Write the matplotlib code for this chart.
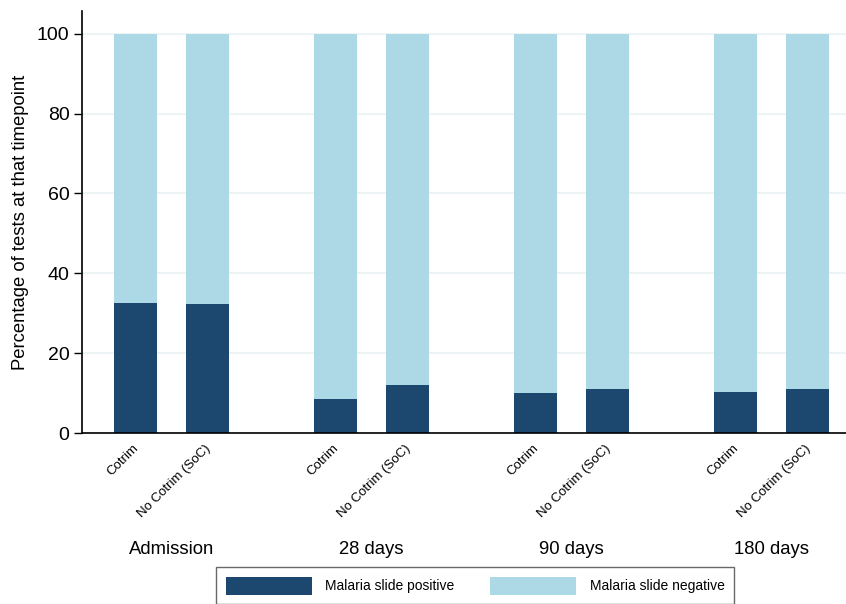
import matplotlib.pyplot as plt
import matplotlib.transforms as mtransforms
import numpy as np

plt.rcParams['font.family'] = ['Liberation Sans', 'DejaVu Sans']

timepoints = ["Admission", "28 days", "90 days", "180 days"]
arms = ["Cotrim", "No Cotrim (SoC)"]
# percentage of slides positive, per timepoint, per arm
positive = [[32.6, 32.4],
            [8.4, 12.1],
            [10.1, 11.1],
            [10.3, 11.1]]

dark = "#1c476f"
light = "#add8e6"

fig = plt.figure(figsize=(8.46, 6.04), dpi=100)
ax = fig.add_axes([82 / 846, 171 / 604, 1 - 82 / 846, 422 / 604])

group_gap = 5.0
arm_gap = 1.8
width = 1.075

xs, labels = [], []
for g, tp in enumerate(timepoints):
    for j, arm in enumerate(arms):
        x = g * group_gap + j * arm_gap
        pos = positive[g][j]
        ax.bar(x, pos, width, color=dark, zorder=2,
               label="Malaria slide positive" if (g, j) == (0, 0) else None)
        ax.bar(x, 100 - pos, width, bottom=pos, color=light, zorder=2,
               label="Malaria slide negative" if (g, j) == (0, 0) else None)
        xs.append(x)
        labels.append(arm)

ax.set_xlim(-1.3375, xs[-1] + 0.9625)
ax.set_ylim(0, 105.7)
ax.set_yticks([0, 20, 40, 60, 80, 100])
ax.yaxis.grid(True, color="#eaf2f3", linewidth=1.2, zorder=0)
ax.set_axisbelow(True)
ax.tick_params(axis="y", length=6, width=1, labelsize=14, pad=3)
ax.set_ylabel("Percentage of tests at that timepoint", fontsize=13.3, labelpad=6)

ax.set_xticks(xs)
ax.set_xticklabels([])
ax.tick_params(axis="x", length=0)
trans = mtransforms.blended_transform_factory(ax.transData, ax.transAxes)
for x, lab in zip(xs, labels):
    ax.text(x - 0.08, -0.022, lab, transform=trans, rotation=45,
            rotation_mode="anchor", ha="right", va="top", fontsize=9.5)

for g, tp in enumerate(timepoints):
    ax.text(g * group_gap + arm_gap / 2, -0.275, tp, transform=trans,
            ha="center", va="center", fontsize=13.3)

for side in ["top", "right"]:
    ax.spines[side].set_visible(False)
ax.spines["left"].set_linewidth(1.2)
ax.spines["bottom"].set_linewidth(1.2)

fig.legend(loc="upper center", bbox_to_anchor=(475 / 846, 37 / 604), ncol=2,
           fontsize=10, frameon=True, fancybox=False, edgecolor="#444444",
           handlelength=6.2, handleheight=1.6, columnspacing=2.6,
           handletextpad=0.95, borderpad=0.7, borderaxespad=0)

fig.savefig("out.png", dpi=100)
